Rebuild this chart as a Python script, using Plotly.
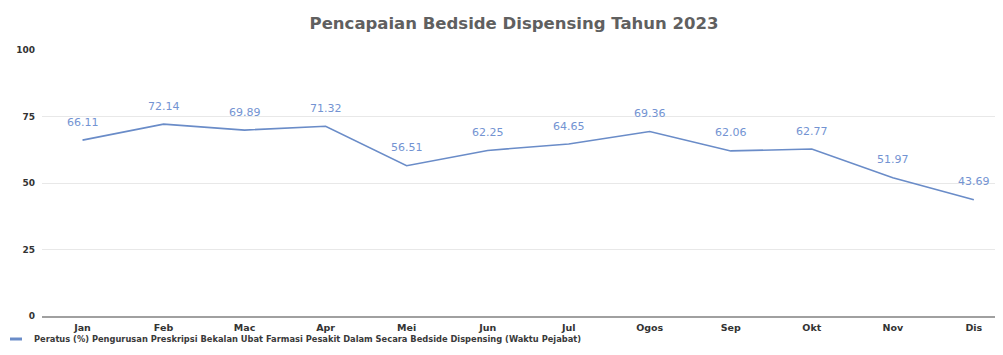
import plotly.graph_objects as go

months = ["Jan", "Feb", "Mac", "Apr", "Mei", "Jun", "Jul", "Ogos", "Sep", "Okt", "Nov", "Dis"]
values = [66.11, 72.14, 69.89, 71.32, 56.51, 62.25, 64.65, 69.36, 62.06, 62.77, 51.97, 43.69]
value_labels = ["66.11", "72.14", "69.89", "71.32", "56.51", "62.25", "64.65", "69.36", "62.06", "62.77", "51.97", "43.69"]
series_name = "Peratus (%) Pengurusan Preskripsi Bekalan Ubat Farmasi Pesakit Dalam Secara Bedside Dispensing (Waktu Pejabat)"
title_text = "Pencapaian Bedside Dispensing Tahun 2023"
y_ticks = [0, 25, 50, 75, 100]

LINE_COLOR = "#6a8cc8"
LABEL_COLOR = "#7393d2"
FONT = "DejaVu Sans"

# page body has an 8px default margin, so the figure is 8px smaller than the window
W, H = 995, 347
L, T, B = 34, 42, 39
PW, PH = W - L, H - T - B

fig = go.Figure()
fig.add_trace(go.Scatter(
    x=months, y=values, mode="lines", name=series_name,
    line=dict(color=LINE_COLOR, width=1.6),
    showlegend=False,
))

for m, v, t in zip(months, values, value_labels):
    fig.add_annotation(x=m, y=v, text=t, showarrow=False, yshift=18, yanchor="middle",
                       font=dict(family=FONT, size=11, color=LABEL_COLOR))

# legend (manual, compact swatch)
fig.add_shape(type="line", xref="paper", yref="paper",
              x0=(2 - L) / PW, x1=(14 - L) / PW, y0=-23 / PH, y1=-23 / PH,
              line=dict(color=LINE_COLOR, width=3))
fig.add_annotation(xref="paper", yref="paper", x=(24 - L) / PW, y=-23 / PH,
                   xanchor="left", yanchor="middle", showarrow=False,
                   text="<b>" + series_name + "</b>",
                   font=dict(family=FONT, size=8.3, color="#3a3a3a"))

fig.update_layout(
    width=W, height=H,
    margin=dict(l=L, r=0, t=T, b=B, autoexpand=False),
    paper_bgcolor="white", plot_bgcolor="white",
    title=dict(text="<b>" + title_text + "</b>", x=506 / W, xanchor="center", y=1 - 15 / H, yanchor="middle",
               font=dict(family=FONT, size=16.5, color="#606060")),
    showlegend=False,
    font=dict(family=FONT),
)
fig.update_xaxes(
    type="category", range=[-0.5, 11.36], showgrid=False,
    showline=True, linecolor="#a0a0a0", linewidth=2,
    tickfont=dict(family=FONT, size=9.5, color="#333", weight="bold"),
    ticks="", ticklabelstandoff=2,
)
fig.update_yaxes(
    range=[0, 100], tickvals=y_ticks, showgrid=True, gridcolor="#e8e8e8", gridwidth=1,
    zeroline=False, showline=False,
    tickfont=dict(family=FONT, size=9, color="#333", weight="bold"),
    ticks="", ticklabelstandoff=6,
)
fig.write_html("out.html")
